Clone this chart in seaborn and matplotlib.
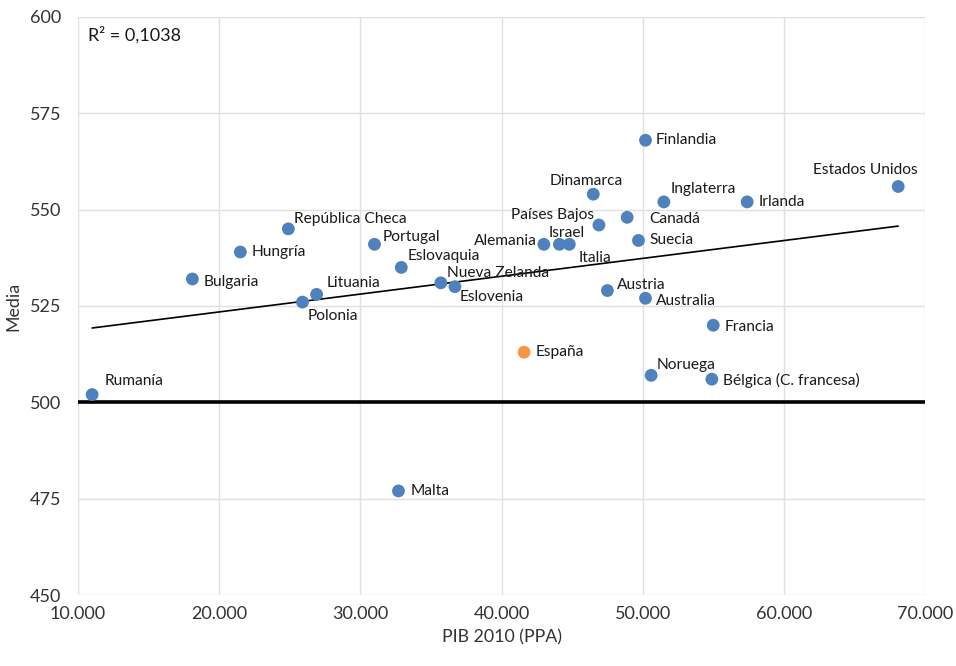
import numpy as np
import pandas as pd
import matplotlib
matplotlib.use("Agg")
import matplotlib.pyplot as plt
import matplotlib.ticker as mticker
import seaborn as sns

# ── Datos ─────────────────────────────────────────────────────────────────────
paises = [
    "Rumanía", "Bulgaria", "Hungría", "República Checa", "Polonia", "Lituania",
    "Portugal", "Eslovaquia", "Malta", "Nueva Zelanda", "Eslovenia", "España",
    "Alemania", "Israel", "Italia", "Dinamarca", "Países Bajos", "Canadá",
    "Austria", "Suecia", "Australia", "Finlandia", "Noruega", "Inglaterra",
    "Bélgica (C. francesa)", "Francia", "Irlanda", "Estados Unidos",
]
pib = [
    11000, 18100, 21500, 24900, 25900, 26900,
    31000, 32900, 32700, 35700, 36700, 41600,
    43000, 44100, 44800, 46500, 46900, 48900,
    47500, 49700, 50200, 50200, 50600, 51500,
    54900, 55000, 57400, 68100,
]
media = [
    502, 532, 539, 545, 526, 528,
    541, 535, 477, 531, 530, 513,
    541, 541, 541, 554, 546, 548,
    529, 542, 527, 568, 507, 552,
    506, 520, 552, 556,
]
# desplazamiento de cada etiqueta (px) y alineación
etiq_dx = [12, 11, 11, 6, 5, 10, 8, 6, 12, 6, 5, 12, -7, 7, 9, -7, -5, 22,
           10, 11, 10, 10, 5, 7, 11, 11, 11, 19]
etiq_dy = [14, -3, 0, 10, -14, 11, 7, 11, 0, 10, -10, 0, 3, 11, -14, 13, 10, -2,
           6, 0, -3, 0, 10, 13, -1, -2, 0, 16]
etiq_ha = ["left", "left", "left", "left", "left", "left", "left", "left",
           "left", "left", "left", "left", "right", "center", "left", "center",
           "right", "left", "left", "left", "left", "left", "left", "left",
           "left", "left", "left", "right"]

x_ticks = [10000, 20000, 30000, 40000, 50000, 60000, 70000]
y_ticks = [450, 475, 500, 525, 550, 575, 600]

df = pd.DataFrame({"pais": paises, "pib": pib, "media": media})
df["grupo"] = np.where(df["pais"] == "España", "España", "Otros")

sns.set_style("white")
plt.rcParams["font.family"] = ["Lato", "DejaVu Sans"]

fig = plt.figure(figsize=(9.56, 6.66), dpi=100)
ax = fig.add_axes([0.0816, 0.1066, 0.886, 0.868])

# línea de referencia 500
ax.axhline(500, color="black", lw=2.6, zorder=2)

# línea de tendencia lineal
pend, orde = np.polyfit(df["pib"], df["media"], 1)
xs = np.array([min(pib), max(pib)])
ax.plot(xs, pend * xs + orde, color="black", lw=1.2, zorder=2)

sns.scatterplot(
    data=df, x="pib", y="media", hue="grupo",
    palette={"Otros": "#4F81BD", "España": "#F79646"},
    s=85, edgecolor="none", legend=False, ax=ax, zorder=3,
)

for i, p in enumerate(paises):
    ax.annotate(p, (pib[i], media[i]), xytext=(etiq_dx[i], etiq_dy[i]),
                textcoords="offset pixels", ha=etiq_ha[i], va="center",
                fontsize=11.2, color="#1a1a1a", zorder=4)

ax.text(0.012, 0.969, "R² = 0,1038", transform=ax.transAxes,
        ha="left", va="center", fontsize=13, color="#1a1a1a")

ax.set_xlim(10000, 70000)
ax.set_ylim(450, 600)
ax.set_xticks(x_ticks)
ax.set_yticks(y_ticks)
ax.xaxis.set_major_formatter(
    mticker.FuncFormatter(lambda v, _: f"{v:,.0f}".replace(",", ".")))
ax.grid(True, color="#E0E0E0", lw=1)
ax.set_axisbelow(True)
for s in ax.spines.values():
    s.set_visible(False)
ax.tick_params(axis="both", length=0, labelsize=13, colors="#333333")
ax.tick_params(axis="x", pad=8)
ax.tick_params(axis="y", pad=12)
ax.set_xlabel("PIB 2010 (PPA)", fontsize=12.8, color="#333333", labelpad=5)
ax.set_ylabel("Media", fontsize=12.8, color="#333333", labelpad=6)

fig.savefig("out.png", dpi=100)
plt.close(fig)
